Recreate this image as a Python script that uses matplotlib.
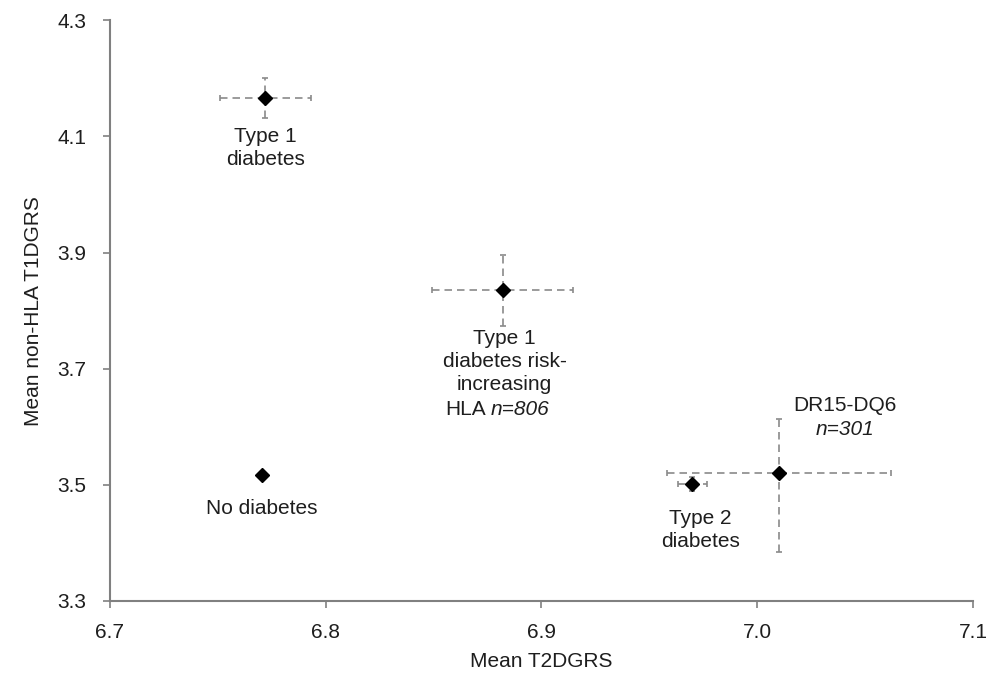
import matplotlib
matplotlib.use("Agg")
import matplotlib.pyplot as plt

plt.rcParams['font.family'] = ['Liberation Sans', 'DejaVu Sans']

# group means and error bar half-widths
groups = ["Type 1 diabetes", "T1D risk HLA", "DR15-DQ6", "Type 2 diabetes", "No diabetes"]
t2dgrs = [6.772, 6.882, 7.010, 6.970, 6.7705]
t1dgrs = [4.166, 3.835, 3.520, 3.501, 3.517]
x_err = [0.021, 0.0327, 0.052, 0.0065, 0.0]
y_err_low = [0.035, 0.061, 0.135, 0.012, 0.0]
y_err_high = [0.035, 0.061, 0.093, 0.012, 0.0]

fig = plt.figure(figsize=(9.98, 6.76), dpi=100)
ax = fig.add_axes([0.1102, 0.111, 0.8647, 0.859])

grey = "#8a8a8a"
for i in range(len(groups)):
    if x_err[i] > 0:
        eb = ax.errorbar(t2dgrs[i], t1dgrs[i], xerr=x_err[i],
                         yerr=[[y_err_low[i]], [y_err_high[i]]],
                         fmt="none", ecolor=grey, elinewidth=1.2, capsize=2.5, capthick=1.2)
        for lc in eb[2]:
            lc.set_linestyle((0, (4.5, 3)))
ax.plot(t2dgrs, t1dgrs, "D", color="black", markersize=7, zorder=5)

fs = 15
def lab(i, txt, dx, dy, **kw):
    ax.annotate(txt, (t2dgrs[i], t1dgrs[i]), xytext=(dx, dy), textcoords="offset pixels",
                ha=kw.pop("ha", "center"), va="center", fontsize=fs, color="#1e1e1e",
                linespacing=1.27, **kw)

lab(0, "Type 1\ndiabetes", 0, -50)
lab(1, "Type 1\ndiabetes risk-\nincreasing", 2, -71)
lab(1, "HLA", -17, -119, ha="right")
lab(1, "n=806", -12, -119, ha="left", style="italic")
lab(2, "DR15-DQ6", 66, 68)
lab(2, "n=301", 66, 44, style="italic")
lab(3, "Type 2\ndiabetes", 8, -46)
lab(4, "No diabetes", 0, -34)

ax.set_xlim(6.7, 7.1)
ax.set_ylim(3.3, 4.3)
ax.set_xticks([6.7, 6.8, 6.9, 7.0, 7.1])
ax.set_yticks([3.3, 3.5, 3.7, 3.9, 4.1, 4.3])
ax.set_xticklabels(["6.7", "6.8", "6.9", "7.0", "7.1"])
ax.set_yticklabels(["3.3", "3.5", "3.7", "3.9", "4.1", "4.3"])
ax.tick_params(direction="out", length=5, width=1.2, color="#808080",
               labelsize=15, labelcolor="#1e1e1e")
ax.tick_params(axis="y", pad=12)
ax.tick_params(axis="x", pad=11)
for s in ["top", "right"]:
    ax.spines[s].set_visible(False)
for s in ["left", "bottom"]:
    ax.spines[s].set_color("#808080")
    ax.spines[s].set_linewidth(1.5)

ax.set_xlabel("Mean T2DGRS", fontsize=15, color="#1e1e1e", labelpad=7)
ax.set_ylabel("Mean non-HLA T1DGRS", fontsize=15, color="#1e1e1e", labelpad=10)

fig.savefig("out.png", dpi=100)
